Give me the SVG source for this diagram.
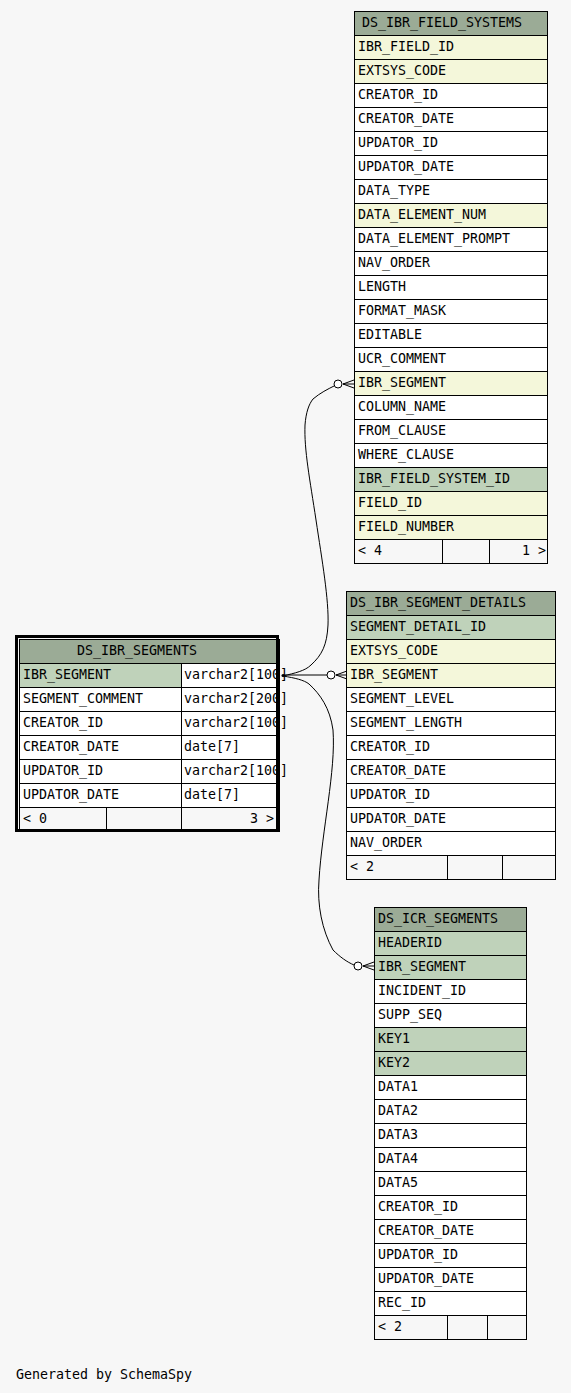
<svg xmlns="http://www.w3.org/2000/svg" width="571" height="1393" viewBox="0 0 571 1393">
<style>
.t{font-family:"DejaVu Sans Mono","Liberation Mono",monospace;font-size:13.3px;fill:#000}
.e{text-anchor:end}
rect.r{stroke:#000;stroke-width:1}
.h{fill:#9bab96}.pk{fill:#bfd2ba}.ix{fill:#f4f7da}.n{fill:#fff}.f{fill:#f7f7f7}
.cn{fill:none;stroke:#000;stroke-width:1}
</style>
<rect x="0" y="0" width="571" height="1393" fill="#f7f7f7"/>

<g id="DS_IBR_FIELD_SYSTEMS">
<rect class="r h" x="354.5" y="11.5" width="193" height="24"/><text class="t" x="362" y="27">DS_IBR_FIELD_SYSTEMS</text>
<rect class="r ix" x="354.5" y="35.5" width="193" height="24"/><text class="t" x="358" y="51">IBR_FIELD_ID</text>
<rect class="r ix" x="354.5" y="59.5" width="193" height="24"/><text class="t" x="358" y="75">EXTSYS_CODE</text>
<rect class="r n" x="354.5" y="83.5" width="193" height="24"/><text class="t" x="358" y="99">CREATOR_ID</text>
<rect class="r n" x="354.5" y="107.5" width="193" height="24"/><text class="t" x="358" y="123">CREATOR_DATE</text>
<rect class="r n" x="354.5" y="131.5" width="193" height="24"/><text class="t" x="358" y="147">UPDATOR_ID</text>
<rect class="r n" x="354.5" y="155.5" width="193" height="24"/><text class="t" x="358" y="171">UPDATOR_DATE</text>
<rect class="r n" x="354.5" y="179.5" width="193" height="24"/><text class="t" x="358" y="195">DATA_TYPE</text>
<rect class="r ix" x="354.5" y="203.5" width="193" height="24"/><text class="t" x="358" y="219">DATA_ELEMENT_NUM</text>
<rect class="r n" x="354.5" y="227.5" width="193" height="24"/><text class="t" x="358" y="243">DATA_ELEMENT_PROMPT</text>
<rect class="r n" x="354.5" y="251.5" width="193" height="24"/><text class="t" x="358" y="267">NAV_ORDER</text>
<rect class="r n" x="354.5" y="275.5" width="193" height="24"/><text class="t" x="358" y="291">LENGTH</text>
<rect class="r n" x="354.5" y="299.5" width="193" height="24"/><text class="t" x="358" y="315">FORMAT_MASK</text>
<rect class="r n" x="354.5" y="323.5" width="193" height="24"/><text class="t" x="358" y="339">EDITABLE</text>
<rect class="r n" x="354.5" y="347.5" width="193" height="24"/><text class="t" x="358" y="363">UCR_COMMENT</text>
<rect class="r ix" x="354.5" y="371.5" width="193" height="24"/><text class="t" x="358" y="387">IBR_SEGMENT</text>
<rect class="r n" x="354.5" y="395.5" width="193" height="24"/><text class="t" x="358" y="411">COLUMN_NAME</text>
<rect class="r n" x="354.5" y="419.5" width="193" height="24"/><text class="t" x="358" y="435">FROM_CLAUSE</text>
<rect class="r n" x="354.5" y="443.5" width="193" height="24"/><text class="t" x="358" y="459">WHERE_CLAUSE</text>
<rect class="r pk" x="354.5" y="467.5" width="193" height="24"/><text class="t" x="358" y="483">IBR_FIELD_SYSTEM_ID</text>
<rect class="r ix" x="354.5" y="491.5" width="193" height="24"/><text class="t" x="358" y="507">FIELD_ID</text>
<rect class="r ix" x="354.5" y="515.5" width="193" height="24"/><text class="t" x="358" y="531">FIELD_NUMBER</text>
<rect class="r f" x="354.5" y="539.5" width="88" height="24"/>
<rect class="r f" x="442.5" y="539.5" width="47" height="24"/>
<rect class="r f" x="489.5" y="539.5" width="58" height="24"/>
<text class="t" x="358" y="555">&lt; 4</text><text class="t e" x="546" y="555">1 &gt;</text>
</g>

<g id="DS_IBR_SEGMENT_DETAILS">
<rect class="r h" x="346.5" y="591.5" width="209" height="24"/><text class="t" x="350" y="607">DS_IBR_SEGMENT_DETAILS</text>
<rect class="r pk" x="346.5" y="615.5" width="209" height="24"/><text class="t" x="350" y="631">SEGMENT_DETAIL_ID</text>
<rect class="r ix" x="346.5" y="639.5" width="209" height="24"/><text class="t" x="350" y="655">EXTSYS_CODE</text>
<rect class="r ix" x="346.5" y="663.5" width="209" height="24"/><text class="t" x="350" y="679">IBR_SEGMENT</text>
<rect class="r n" x="346.5" y="687.5" width="209" height="24"/><text class="t" x="350" y="703">SEGMENT_LEVEL</text>
<rect class="r n" x="346.5" y="711.5" width="209" height="24"/><text class="t" x="350" y="727">SEGMENT_LENGTH</text>
<rect class="r n" x="346.5" y="735.5" width="209" height="24"/><text class="t" x="350" y="751">CREATOR_ID</text>
<rect class="r n" x="346.5" y="759.5" width="209" height="24"/><text class="t" x="350" y="775">CREATOR_DATE</text>
<rect class="r n" x="346.5" y="783.5" width="209" height="24"/><text class="t" x="350" y="799">UPDATOR_ID</text>
<rect class="r n" x="346.5" y="807.5" width="209" height="24"/><text class="t" x="350" y="823">UPDATOR_DATE</text>
<rect class="r n" x="346.5" y="831.5" width="209" height="24"/><text class="t" x="350" y="847">NAV_ORDER</text>
<rect class="r f" x="346.5" y="855.5" width="101" height="24"/>
<rect class="r f" x="447.5" y="855.5" width="55" height="24"/>
<rect class="r f" x="502.5" y="855.5" width="53" height="24"/>
<text class="t" x="350" y="871">&lt; 2</text>
</g>

<g id="DS_ICR_SEGMENTS">
<rect class="r h" x="374.5" y="907.5" width="152" height="24"/><text class="t" x="378" y="923">DS_ICR_SEGMENTS</text>
<rect class="r pk" x="374.5" y="931.5" width="152" height="24"/><text class="t" x="378" y="947">HEADERID</text>
<rect class="r pk" x="374.5" y="955.5" width="152" height="24"/><text class="t" x="378" y="971">IBR_SEGMENT</text>
<rect class="r n" x="374.5" y="979.5" width="152" height="24"/><text class="t" x="378" y="995">INCIDENT_ID</text>
<rect class="r n" x="374.5" y="1003.5" width="152" height="24"/><text class="t" x="378" y="1019">SUPP_SEQ</text>
<rect class="r pk" x="374.5" y="1027.5" width="152" height="24"/><text class="t" x="378" y="1043">KEY1</text>
<rect class="r pk" x="374.5" y="1051.5" width="152" height="24"/><text class="t" x="378" y="1067">KEY2</text>
<rect class="r n" x="374.5" y="1075.5" width="152" height="24"/><text class="t" x="378" y="1091">DATA1</text>
<rect class="r n" x="374.5" y="1099.5" width="152" height="24"/><text class="t" x="378" y="1115">DATA2</text>
<rect class="r n" x="374.5" y="1123.5" width="152" height="24"/><text class="t" x="378" y="1139">DATA3</text>
<rect class="r n" x="374.5" y="1147.5" width="152" height="24"/><text class="t" x="378" y="1163">DATA4</text>
<rect class="r n" x="374.5" y="1171.5" width="152" height="24"/><text class="t" x="378" y="1187">DATA5</text>
<rect class="r n" x="374.5" y="1195.5" width="152" height="24"/><text class="t" x="378" y="1211">CREATOR_ID</text>
<rect class="r n" x="374.5" y="1219.5" width="152" height="24"/><text class="t" x="378" y="1235">CREATOR_DATE</text>
<rect class="r n" x="374.5" y="1243.5" width="152" height="24"/><text class="t" x="378" y="1259">UPDATOR_ID</text>
<rect class="r n" x="374.5" y="1267.5" width="152" height="24"/><text class="t" x="378" y="1283">UPDATOR_DATE</text>
<rect class="r n" x="374.5" y="1291.5" width="152" height="24"/><text class="t" x="378" y="1307">REC_ID</text>
<rect class="r f" x="374.5" y="1315.5" width="73" height="24"/>
<rect class="r f" x="447.5" y="1315.5" width="40" height="24"/>
<rect class="r f" x="487.5" y="1315.5" width="39" height="24"/>
<text class="t" x="378" y="1331">&lt; 2</text>
</g>

<g id="DS_IBR_SEGMENTS">
<rect class="r h" x="19.5" y="639.5" width="260" height="24"/><text class="t" x="77" y="655">DS_IBR_SEGMENTS</text>
<rect class="r pk" x="19.5" y="663.5" width="162" height="24"/><text class="t" x="23" y="679">IBR_SEGMENT</text>
<rect class="r n" x="181.5" y="663.5" width="98" height="24"/><text class="t" x="184" y="679">varchar2[100]</text>
<rect class="r n" x="19.5" y="687.5" width="162" height="24"/><text class="t" x="23" y="703">SEGMENT_COMMENT</text>
<rect class="r n" x="181.5" y="687.5" width="98" height="24"/><text class="t" x="184" y="703">varchar2[200]</text>
<rect class="r n" x="19.5" y="711.5" width="162" height="24"/><text class="t" x="23" y="727">CREATOR_ID</text>
<rect class="r n" x="181.5" y="711.5" width="98" height="24"/><text class="t" x="184" y="727">varchar2[100]</text>
<rect class="r n" x="19.5" y="735.5" width="162" height="24"/><text class="t" x="23" y="751">CREATOR_DATE</text>
<rect class="r n" x="181.5" y="735.5" width="98" height="24"/><text class="t" x="184" y="751">date[7]</text>
<rect class="r n" x="19.5" y="759.5" width="162" height="24"/><text class="t" x="23" y="775">UPDATOR_ID</text>
<rect class="r n" x="181.5" y="759.5" width="98" height="24"/><text class="t" x="184" y="775">varchar2[100]</text>
<rect class="r n" x="19.5" y="783.5" width="162" height="24"/><text class="t" x="23" y="799">UPDATOR_DATE</text>
<rect class="r n" x="181.5" y="783.5" width="98" height="24"/><text class="t" x="184" y="799">date[7]</text>
<rect class="r f" x="19.5" y="807.5" width="87" height="24"/>
<rect class="r f" x="106.5" y="807.5" width="75" height="24"/>
<rect class="r f" x="181.5" y="807.5" width="98" height="24"/>
<text class="t" x="23" y="823">&lt; 0</text><text class="t e" x="274" y="823">3 &gt;</text>
<rect x="16.5" y="636.5" width="261" height="194" fill="none" stroke="#000" stroke-width="3"/>
</g>

<g id="connectors">
<path class="cn" d="M283,676 C295,673 305,671 311,665 C322,655 327,645 328,625 C329,600 322,560 316,520 C310,480 304,450 305,425 C306,412 309,404 313,399 C320,393 328,389 334,386"/>
<circle cx="338" cy="384" r="4" fill="#fff" stroke="#000"/>
<path class="cn" d="M343,384 L354,380 M343,384 L354,384 M343,384 L354,388"/>
<path class="cn" d="M283,675 L327,675"/>
<circle cx="331" cy="675" r="4" fill="#fff" stroke="#000"/>
<path class="cn" d="M336,675 L347,671 M336,675 L347,675 M336,675 L347,679"/>
<path class="cn" d="M283,676 C295,678 304,680 309,684 C320,694 330,708 333,730 C336,770 322,830 319,880 C317,905 322,930 333,950 C340,957 347,962 354,965"/>
<circle cx="358" cy="966" r="4" fill="#fff" stroke="#000"/>
<path class="cn" d="M363,966 L374,962 M363,966 L374,966 M363,966 L374,970"/>
<circle cx="283" cy="675.5" r="1.5" fill="#000"/>
</g>

<text class="t" x="16" y="1379">Generated by SchemaSpy</text>
</svg>
